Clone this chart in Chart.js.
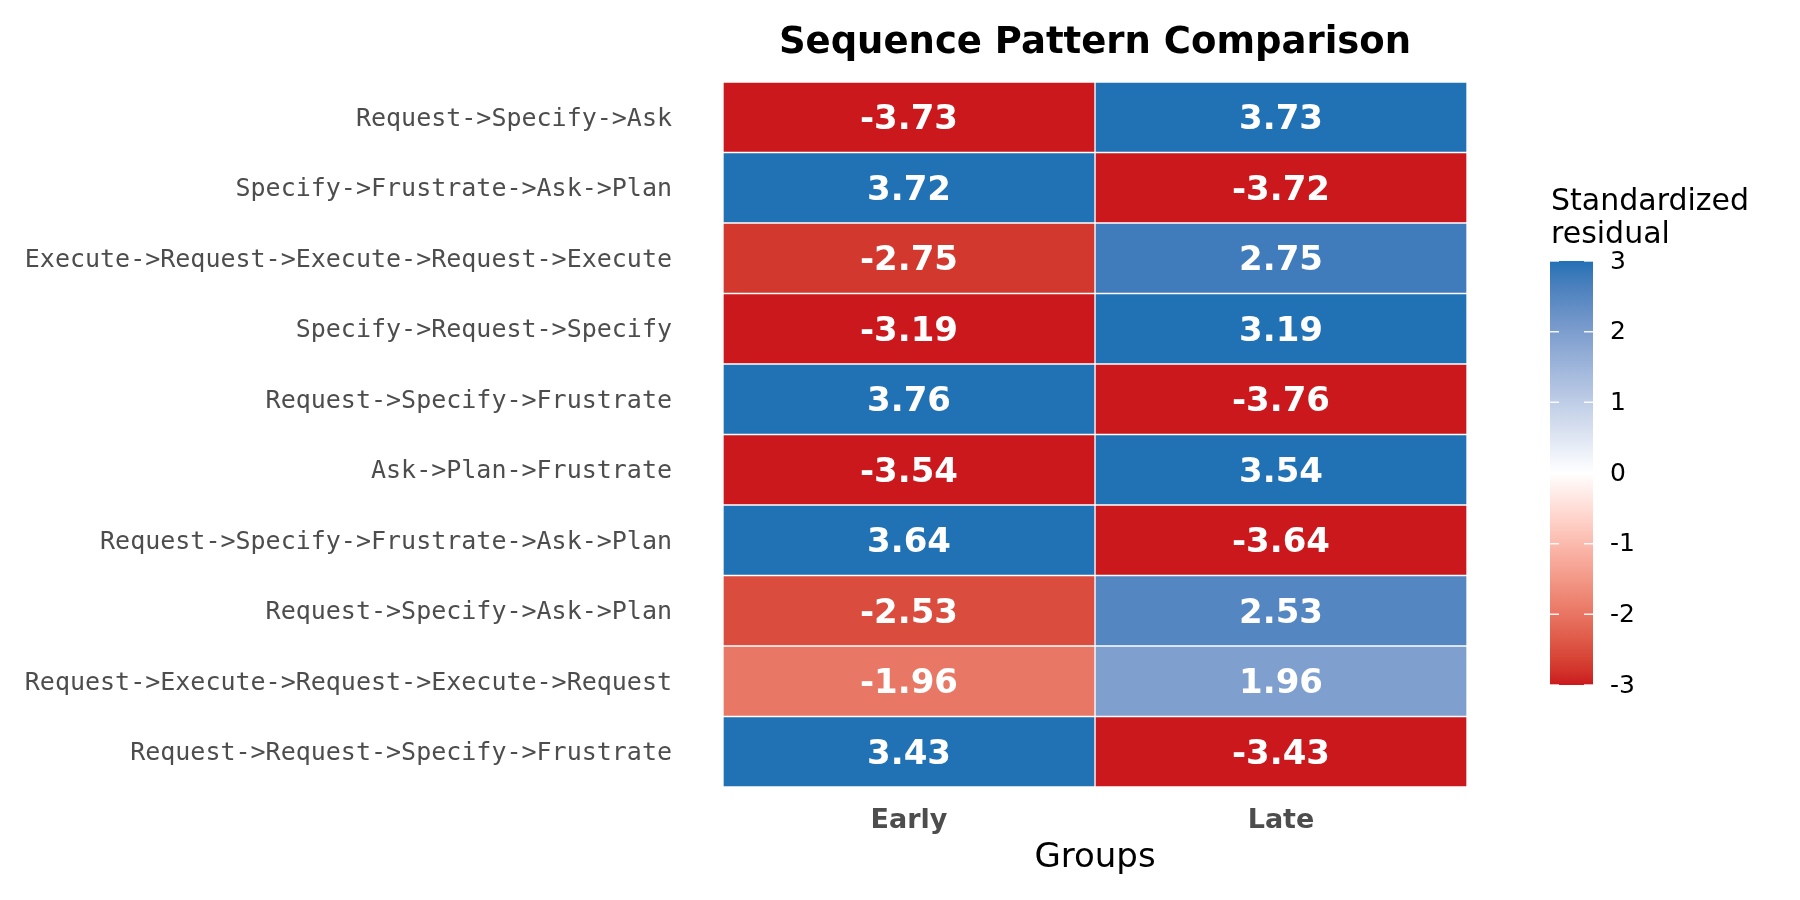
<!DOCTYPE html>
<html>
<head>
<meta charset="utf-8">
<title>Sequence Pattern Comparison</title>
<script src="https://cdn.jsdelivr.net/npm/chart.js@4"></script>
<style>
  html, body { margin: 0; padding: 0; background: #fff; }
  #wrap { width: 1800px; height: 900px; position: relative; }
</style>
</head>
<body>
<div id="wrap"><canvas id="heat"></canvas></div>
<script>
// rows top to bottom
const patterns = [
  'Request->Specify->Ask',
  'Specify->Frustrate->Ask->Plan',
  'Execute->Request->Execute->Request->Execute',
  'Specify->Request->Specify',
  'Request->Specify->Frustrate',
  'Ask->Plan->Frustrate',
  'Request->Specify->Frustrate->Ask->Plan',
  'Request->Specify->Ask->Plan',
  'Request->Execute->Request->Execute->Request',
  'Request->Request->Specify->Frustrate'
];
const groups = ['Early', 'Late'];
const earlyResiduals = [-3.73, 3.72, -2.75, -3.19, 3.76, -3.54, 3.64, -2.53, -1.96, 3.43];
const lateResiduals = [3.73, -3.72, 2.75, 3.19, -3.76, 3.54, -3.64, 2.53, 1.96, -3.43];
const legendTicks = [3, 2, 1, 0, -1, -2, -3];

const LOW = '#CB181D', MID = '#FFFFFF', HIGH = '#2171B5';
const LIMIT = 3;

// --- colour helpers (diverging gradient, interpolated in Lab like ggplot) ---
function hexToRgb(h) {
  return [parseInt(h.slice(1, 3), 16), parseInt(h.slice(3, 5), 16), parseInt(h.slice(5, 7), 16)];
}
function toLin(c) { c /= 255; return c <= 0.04045 ? c / 12.92 : Math.pow((c + 0.055) / 1.055, 2.4); }
function fromLin(c) {
  const v = c <= 0.0031308 ? 12.92 * c : 1.055 * Math.pow(c, 1 / 2.4) - 0.055;
  return Math.max(0, Math.min(255, Math.round(v * 255)));
}
const WX = 0.95047, WY = 1.0, WZ = 1.08883;
function fLab(t) { return t > 0.008856 ? Math.cbrt(t) : 7.787 * t + 16 / 116; }
function fLabInv(t) { return t * t * t > 0.008856 ? t * t * t : (t - 16 / 116) / 7.787; }
function rgbToLab(rgb) {
  const [r, g, b] = rgb.map(toLin);
  const x = (0.4124 * r + 0.3576 * g + 0.1805 * b) / WX;
  const y = (0.2126 * r + 0.7152 * g + 0.0722 * b) / WY;
  const z = (0.0193 * r + 0.1192 * g + 0.9505 * b) / WZ;
  const fx = fLab(x), fy = fLab(y), fz = fLab(z);
  return [116 * fy - 16, 500 * (fx - fy), 200 * (fy - fz)];
}
function labToRgb(lab) {
  const fy = (lab[0] + 16) / 116, fx = fy + lab[1] / 500, fz = fy - lab[2] / 200;
  const x = fLabInv(fx) * WX, y = fLabInv(fy) * WY, z = fLabInv(fz) * WZ;
  const r = 3.2406 * x - 1.5372 * y - 0.4986 * z;
  const g = -0.9689 * x + 1.8758 * y + 0.0415 * z;
  const b = 0.0557 * x - 0.2040 * y + 1.0570 * z;
  return [fromLin(r), fromLin(g), fromLin(b)];
}
const labLow = rgbToLab(hexToRgb(LOW)), labMid = rgbToLab(hexToRgb(MID)), labHigh = rgbToLab(hexToRgb(HIGH));
function residualColor(v) {
  const c = Math.max(-LIMIT, Math.min(LIMIT, v));
  const t = Math.abs(c) / LIMIT;
  const end = c < 0 ? labLow : labHigh;
  const lab = labMid.map((m, i) => m + (end[i] - m) * t);
  const rgb = labToRgb(lab);
  return `rgb(${rgb[0]},${rgb[1]},${rgb[2]})`;
}

const residualsByGroup = [earlyResiduals, lateResiduals];

const datasets = groups.map((g, gi) => ({
  label: g,
  data: patterns.map(() => [gi, gi + 1]),
  residuals: residualsByGroup[gi],
  backgroundColor: residualsByGroup[gi].map(residualColor),
  borderColor: '#ffffff',
  borderWidth: 1,
  borderSkipped: false,
  grouped: false,
  barPercentage: 1,
  categoryPercentage: 1
}));

// cell labels, title and colourbar
const heatExtras = {
  id: 'heatExtras',
  afterDatasetsDraw(chart) {
    const ctx = chart.ctx;
    ctx.save();
    ctx.fillStyle = '#ffffff';
    ctx.font = 'bold 34px "DejaVu Sans"';
    ctx.textAlign = 'center';
    ctx.textBaseline = 'middle';
    chart.data.datasets.forEach((ds, di) => {
      chart.getDatasetMeta(di).data.forEach((bar, i) => {
        ctx.fillText(ds.residuals[i].toFixed(2), (bar.x + bar.base) / 2, bar.y + 3);
      });
    });
    ctx.restore();
  },
  afterDraw(chart) {
    const ctx = chart.ctx;
    const area = chart.chartArea;
    ctx.save();
    // title
    ctx.fillStyle = '#000';
    ctx.font = 'bold 37px "DejaVu Sans"';
    ctx.textAlign = 'center';
    ctx.textBaseline = 'alphabetic';
    ctx.fillText('Sequence Pattern Comparison', (area.left + area.right) / 2, 53);

    // colourbar
    const bx = area.right + 83, bw = 43, top = 261, bottom = 685;
    ctx.font = '30px "DejaVu Sans"';
    ctx.textAlign = 'left';
    ctx.fillText('Standardized', bx + 1, 210);
    ctx.fillText('residual', bx + 1, 243);

    const grad = ctx.createLinearGradient(0, top, 0, bottom);
    for (let s = 0; s <= 60; s++) {
      grad.addColorStop(s / 60, residualColor(LIMIT - s / 10));
    }
    ctx.fillStyle = grad;
    ctx.fillRect(bx, top, bw, bottom - top);

    const yFor = v => top + (LIMIT - v) / (2 * LIMIT) * (bottom - top);
    ctx.strokeStyle = 'rgba(255,255,255,0.9)';
    ctx.lineWidth = 1.5;
    ctx.font = '25px "DejaVu Sans"';
    ctx.fillStyle = '#000';
    ctx.textBaseline = 'middle';
    legendTicks.forEach(v => {
      const y = yFor(v);
      ctx.beginPath();
      ctx.moveTo(bx, y); ctx.lineTo(bx + 9, y);
      ctx.moveTo(bx + bw - 9, y); ctx.lineTo(bx + bw, y);
      ctx.stroke();
      ctx.fillText(String(v), bx + 60, y + 1);
    });
    ctx.restore();
  }
};

new Chart(document.getElementById('heat'), {
  type: 'bar',
  data: { labels: patterns, datasets: datasets },
  options: {
    indexAxis: 'y',
    responsive: true,
    maintainAspectRatio: false,
    animation: false,
    layout: { padding: { top: 82, right: 333, bottom: 0, left: 0 } },
    plugins: {
      legend: { display: false },
      tooltip: { enabled: false },
      title: { display: false }
    },
    scales: {
      x: {
        type: 'linear',
        min: 0,
        max: groups.length,
        grid: { display: false, drawTicks: false },
        border: { display: false },
        afterBuildTicks: scale => { scale.ticks = groups.map((g, i) => ({ value: i + 0.5 })); },
        afterFit: scale => { scale.height = 113; },
        ticks: {
          autoSkip: false,
          maxRotation: 0,
          padding: 18,
          color: '#4D4D4D',
          font: { family: 'DejaVu Sans', size: 27, weight: 'bold' },
          callback: (v, i) => groups[i]
        },
        title: {
          display: true,
          text: 'Groups',
          color: '#000',
          font: { family: 'DejaVu Sans', size: 34 },
          padding: { top: 0, bottom: 21 }
        }
      },
      y: {
        grid: { display: false, drawTicks: false },
        border: { display: false },
        afterFit: scale => { scale.width = 723; },
        ticks: {
          autoSkip: false,
          padding: 51,
          labelOffset: 2,
          color: '#4D4D4D',
          font: { family: 'DejaVu Sans Mono', size: 25 }
        }
      }
    }
  },
  plugins: [heatExtras]
});
</script>
</body>
</html>
